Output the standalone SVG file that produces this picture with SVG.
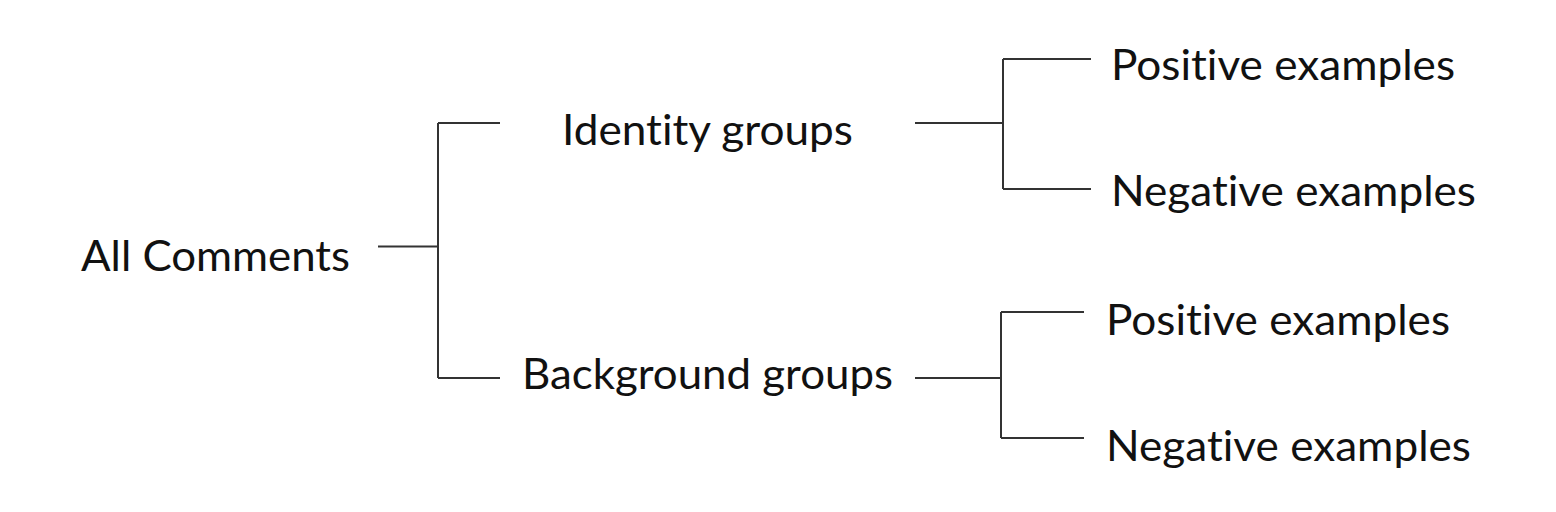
<svg xmlns="http://www.w3.org/2000/svg" width="1556" height="512" viewBox="0 0 1556 512">
<style>
.lbl{font-family:Lato,"Open Sans","Liberation Sans",sans-serif;font-size:43px;fill:#111;font-variant-ligatures:none;font-feature-settings:"liga" 0,"clig" 0}
.conn{fill:none;stroke:#333;stroke-width:2}
</style>
<rect width="1556" height="512" fill="#fff"/>
<g id="connectors">
<path class="conn" d="M378,246.5H438M438,123V378M438,123H500M438,378H500"/>
<path class="conn" d="M915,123H1003M1003,59V189M1003,59H1091M1003,189H1091"/>
<path class="conn" d="M915,378H1001M1001,312V438M1001,312H1084M1001,438H1084"/>
</g>
<g id="all-comments"><text class="lbl" x="81" y="270.5" textLength="269" lengthAdjust="spacingAndGlyphs">All Comments</text></g>
<g id="identity-groups"><text class="lbl" x="562" y="145" textLength="291" lengthAdjust="spacingAndGlyphs">Identity groups</text></g>
<g id="background-groups"><text class="lbl" x="522" y="388.5" textLength="371" lengthAdjust="spacingAndGlyphs">Background groups</text></g>
<g id="identity-positive"><text class="lbl" x="1111" y="79.5" textLength="344" lengthAdjust="spacingAndGlyphs">Positive examples</text></g>
<g id="identity-negative"><text class="lbl" x="1111" y="205.5" textLength="365" lengthAdjust="spacingAndGlyphs">Negative examples</text></g>
<g id="background-positive"><text class="lbl" x="1106" y="334.5" textLength="344" lengthAdjust="spacingAndGlyphs">Positive examples</text></g>
<g id="background-negative"><text class="lbl" x="1106" y="460.5" textLength="365" lengthAdjust="spacingAndGlyphs">Negative examples</text></g>
</svg>
